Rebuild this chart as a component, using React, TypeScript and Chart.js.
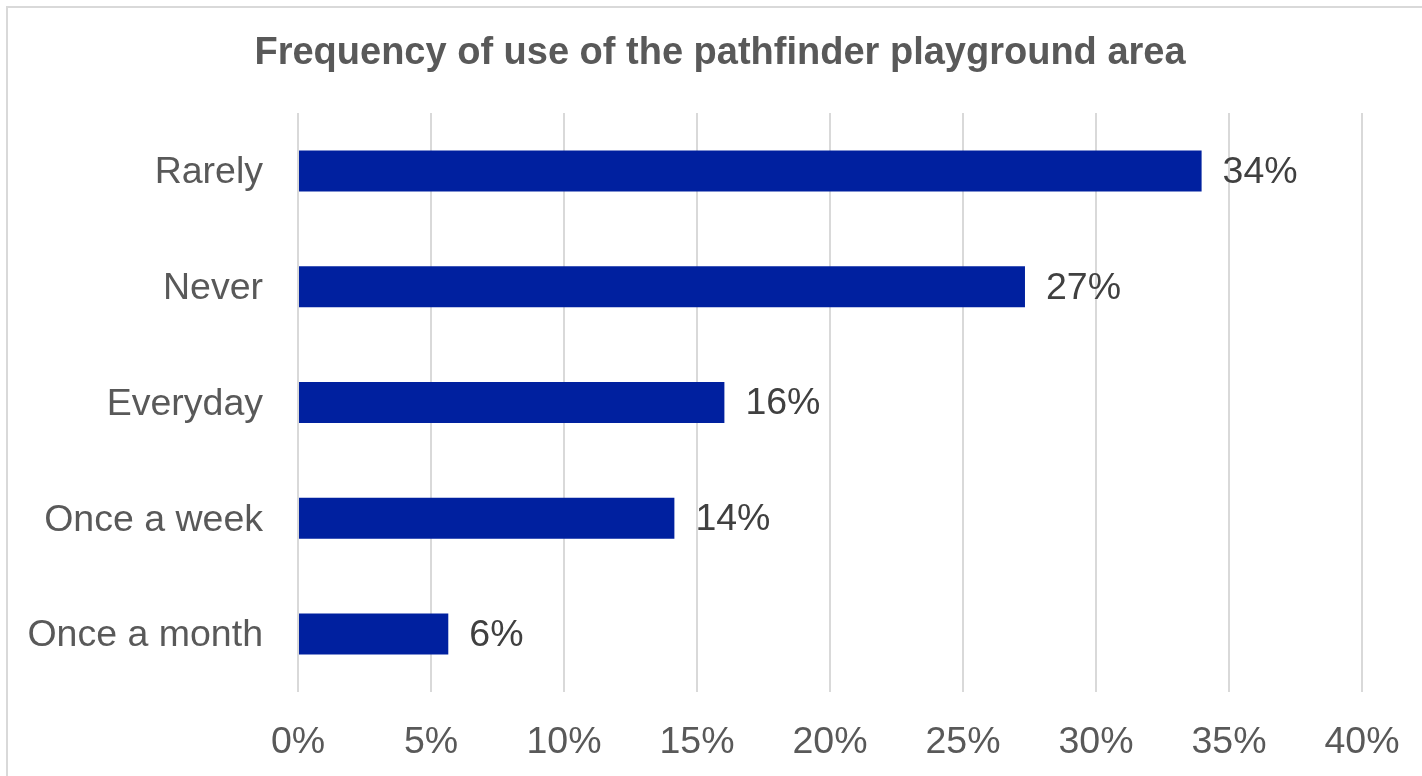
import React, { useEffect, useRef } from "react";
import { Chart, registerables } from "chart.js";

Chart.register(...registerables);

const TITLE = "Frequency of use of the pathfinder playground area";
const categories = ["Rarely", "Never", "Everyday", "Once a week", "Once a month"];
const values = [33.97, 27.33, 16.03, 14.15, 5.65];
const valueLabels = ["34%", "27%", "16%", "14%", "6%"];
const xTicks = [0, 5, 10, 15, 20, 25, 30, 35, 40];

const FONT = "'Liberation Sans', Arial, sans-serif";

const dataLabelPlugin = {
  id: "dataLabels",
  afterDatasetsDraw(chart: any) {
    const ctx = chart.ctx;
    const meta = chart.getDatasetMeta(0);
    ctx.save();
    ctx.font = `37.5px ${FONT}`;
    ctx.fillStyle = "#404040";
    ctx.textAlign = "left";
    ctx.textBaseline = "middle";
    meta.data.forEach((bar: any, i: number) => {
      ctx.fillText(valueLabels[i], bar.x + 21, bar.y + 1.5);
    });
    ctx.restore();
  },
};

const titlePlugin = {
  id: "centeredTitle",
  afterDraw(chart: any) {
    const ctx = chart.ctx;
    ctx.save();
    ctx.font = `bold 38px ${FONT}`;
    ctx.fillStyle = "#595959";
    ctx.textAlign = "center";
    ctx.textBaseline = "middle";
    ctx.fillText(TITLE, 720, 54);
    ctx.restore();
  },
};

export default function App() {
  const ref = useRef<HTMLCanvasElement | null>(null);
  useEffect(() => {
    if (!ref.current) return;
    const chart = new Chart(ref.current, {
      type: "bar",
      data: {
        labels: categories,
        datasets: [
          {
            data: values,
            backgroundColor: "#00209F",
            borderWidth: 0,
            categoryPercentage: 1,
            barPercentage: 0.354,
          },
        ],
      },
      options: {
        indexAxis: "y",
        animation: false,
        responsive: false,
        maintainAspectRatio: false,
        layout: { padding: { left: 0, right: 60, top: 113, bottom: 0 } },
        plugins: {
          legend: { display: false },
          tooltip: { enabled: false },
          title: { display: false },
        },
        scales: {
          x: {
            type: "linear",
            min: 0,
            max: 40,
            afterBuildTicks: (scale: any) => {
              scale.ticks = xTicks.map((v) => ({ value: v }));
            },
            ticks: {
              color: "#595959",
              font: { family: FONT, size: 37.5 },
              padding: 28,
              callback: (v: any) => `${v}%`,
              maxRotation: 0,
            },
            grid: { color: "#d9d9d9", lineWidth: 2, drawTicks: false },
            border: { display: false },
            afterFit: (scale: any) => {
              scale.height = 84;
              scale.paddingRight = 0;
              scale.paddingLeft = 0;
            },
          },
          y: {
            ticks: {
              color: "#595959",
              font: { family: FONT, size: 37.5 },
              padding: 35,
              labelOffset: 2,
            },
            grid: { display: false, drawTicks: false },
            border: { display: false },
            afterFit: (scale: any) => {
              scale.width = 298;
              scale.paddingTop = 0;
              scale.paddingBottom = 0;
            },
          },
        },
      },
      plugins: [dataLabelPlugin, titlePlugin],
    });
    return () => chart.destroy();
  }, []);

  return (
    <div
      style={{
        position: "fixed",
        left: 0,
        top: 0,
        width: 1422,
        height: 776,
        background: "#ffffff",
        overflow: "hidden",
      }}
    >
      <div
        style={{
          position: "absolute",
          left: 6,
          top: 6,
          width: 1460,
          height: 820,
          borderLeft: "2px solid #d9d9d9",
          borderTop: "2px solid #d9d9d9",
        }}
      />
      <canvas
        ref={ref}
        width={1422}
        height={776}
        style={{ position: "absolute", left: 0, top: 0, width: 1422, height: 776 }}
      />
    </div>
  );
}
